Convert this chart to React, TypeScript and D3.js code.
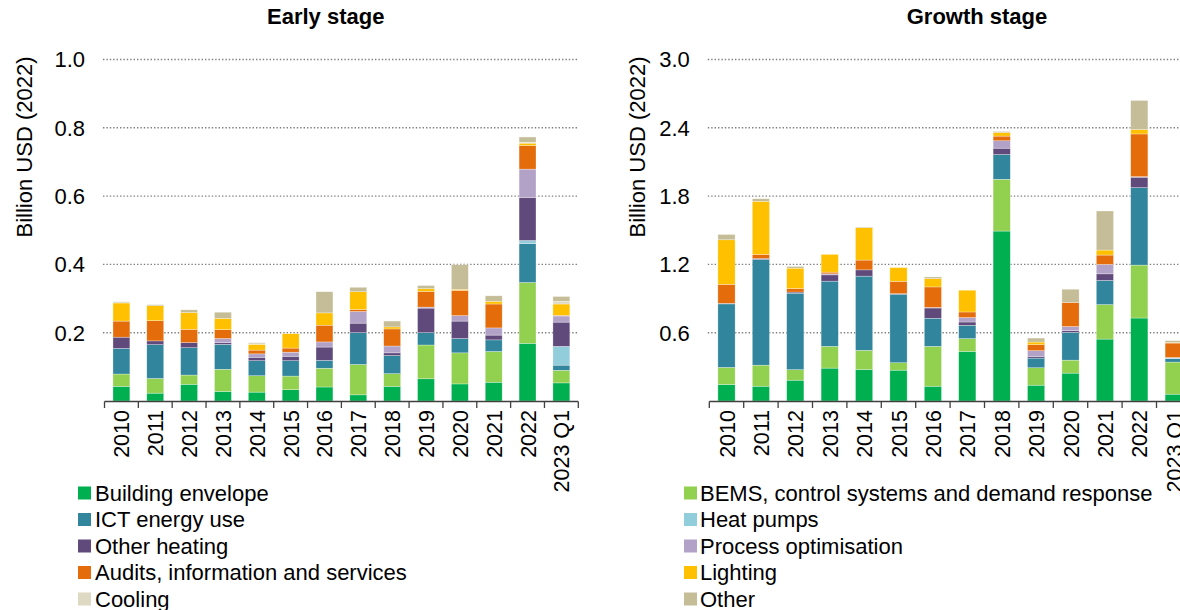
import React from "react";
import * as d3 from "d3";

const years = ["2010","2011","2012","2013","2014","2015","2016","2017","2018","2019","2020","2021","2022","2023 Q1"];

const seriesNames = [
  "Building envelope",
  "BEMS, control systems and demand response",
  "ICT energy use",
  "Heat pumps",
  "Other heating",
  "Process optimisation",
  "Audits, information and services",
  "Lighting",
  "Cooling",
  "Other",
];
const seriesColors = ["#00b050","#92d050","#31859c","#92cddc","#604a7b","#b3a2c7","#e46c0a","#ffc000","#ddd9c3","#c4bd97"];

// Early stage (billion USD 2022)
const earlyBuildingEnvelope = [0.043,0.023,0.049,0.028,0.026,0.033,0.041,0.018,0.043,0.065,0.050,0.055,0.169,0.053];
const earlyBems = [0.036,0.043,0.027,0.065,0.048,0.040,0.055,0.089,0.037,0.099,0.091,0.090,0.178,0.037];
const earlyIct = [0.075,0.099,0.080,0.073,0.044,0.045,0.023,0.093,0.053,0.036,0.042,0.034,0.114,0.015];
const earlyHeatPumps = [0,0,0,0,0,0,0,0,0,0,0,0,0.009,0.055];
const earlyOtherHeating = [0.033,0.011,0.015,0.005,0.010,0.013,0.039,0.028,0.008,0.072,0.051,0.014,0.126,0.071];
const earlyProcess = [0,0,0,0.012,0.010,0.012,0.015,0.034,0.020,0.003,0.016,0.021,0.083,0.018];
const earlyAudits = [0.047,0.059,0.039,0.026,0.011,0.012,0.049,0.006,0.050,0.046,0.074,0.070,0.069,0.002];
const earlyLighting = [0.053,0.044,0.049,0.033,0.017,0.042,0.036,0.052,0.006,0.008,0.003,0.008,0.007,0.033];
const earlyCooling = [0.004,0,0,0,0.005,0,0,0,0,0,0,0,0.003,0.008];
const earlyOther = [0,0.003,0.008,0.018,0,0,0.062,0.013,0.017,0.009,0.072,0.016,0.015,0.014];

// Growth stage (billion USD 2022)
const growthBuildingEnvelope = [0.145,0.130,0.183,0.289,0.277,0.271,0.130,0.436,1.493,0.139,0.245,0.544,0.729,0.060];
const growthBems = [0.150,0.185,0.092,0.191,0.168,0.065,0.350,0.112,0.455,0.153,0.114,0.303,0.465,0.282];
const growthIct = [0.558,0.929,0.672,0.573,0.652,0.602,0.247,0.117,0.217,0.085,0.244,0.212,0.680,0.030];
const growthHeatPumps = [0,0,0,0,0,0,0,0,0,0,0,0,0,0.005];
const growthOtherHeating = [0.005,0.008,0.010,0.055,0.055,0.005,0.090,0.029,0.056,0.015,0.015,0.058,0.092,0];
const growthProcess = [0,0,0,0.009,0,0,0.005,0.039,0.065,0.050,0.036,0.083,0.005,0.005];
const growthAudits = [0.167,0.035,0.031,0.015,0.086,0.108,0.180,0.049,0.041,0.053,0.211,0.082,0.375,0.127];
const growthLighting = [0.391,0.467,0.179,0.156,0.284,0.121,0.074,0.191,0.032,0.023,0,0.044,0.039,0.005];
const growthCooling = [0,0,0,0,0,0,0,0,0,0,0,0,0,0];
const growthOther = [0.047,0.023,0.015,0,0.005,0,0.014,0,0.009,0.035,0.117,0.343,0.255,0.016];

const earlyTicks = [0.2, 0.4, 0.6, 0.8, 1.0];
const growthTicks = [0.6, 1.2, 1.8, 2.4, 3.0];

const earlySeries = [earlyBuildingEnvelope, earlyBems, earlyIct, earlyHeatPumps, earlyOtherHeating, earlyProcess, earlyAudits, earlyLighting, earlyCooling, earlyOther];
const growthSeries = [growthBuildingEnvelope, growthBems, growthIct, growthHeatPumps, growthOtherHeating, growthProcess, growthAudits, growthLighting, growthCooling, growthOther];

const FONT = "'Liberation Sans', Arial, Helvetica, sans-serif";

type PanelProps = {
  title: string;
  titleX: number;
  series: number[][];
  ticks: number[];
  yMax: number;
  x0: number;
  x1: number;
  gridEnd: number;
  axisTitleX: number;
  tickFmt: (v: number) => string;
};

function Panel(p: PanelProps) {
  const yBottom = 401;
  const yTop = 59.5;
  const x = d3.scaleBand<string>().domain(years).range([p.x0, p.x1]).paddingInner(0.5).paddingOuter(0.25);
  const y = d3.scaleLinear().domain([0, p.yMax]).range([yBottom, yTop]);
  const rows = years.map((yr, i) => {
    const r: any = { year: yr };
    seriesNames.forEach((n, k) => (r[n] = p.series[k][i]));
    return r;
  });
  const stacked = d3.stack<any>().keys(seriesNames)(rows);
  const step = x.step();
  const boundaries = d3.range(years.length + 1).map((i) => p.x0 + i * step);
  return (
    <g>
      <text x={p.titleX} y={24} textAnchor="middle" fontWeight="bold" fontSize={22} fontFamily={FONT} fill="#000">{p.title}</text>
      <text transform={`translate(${p.axisTitleX},${147}) rotate(-90)`} textAnchor="middle" fontSize={22} fontFamily={FONT} fill="#000">Billion USD (2022)</text>
      {p.ticks.map((t) => (
        <g key={t}>
          <line x1={p.x0 - 1.5} x2={p.gridEnd} y1={y(t)} y2={y(t)} stroke="#7f7f7f" strokeWidth={1.4} strokeDasharray="1.4 2" />
          <text x={p.x0 - 19.5} y={y(t)} dy="0.36em" textAnchor="end" fontSize={22} fontFamily={FONT} fill="#000">{p.tickFmt(t)}</text>
        </g>
      ))}
      {stacked.map((layer, k) => (
        <g key={layer.key} fill={seriesColors[k]}>
          {layer.map((d, i) => {
            const h = y(d[0]) - y(d[1]);
            if (h <= 0) return null;
            return (
              <rect key={i} x={x(years[i])} width={x.bandwidth()} y={y(d[1])} height={h} stroke="#ffffff" strokeWidth={0.5} strokeOpacity={0.6} />
            );
          })}
        </g>
      ))}
      <line x1={p.x0} x2={p.x1} y1={yBottom + 0.5} y2={yBottom + 0.5} stroke="#404040" strokeWidth={1.3} />
      {boundaries.map((bx, i) => (
        <line key={i} x1={bx} x2={bx} y1={yBottom + 0.5} y2={yBottom + 7} stroke="#404040" strokeWidth={1.3} />
      ))}
      {years.map((yr) => {
        const cx = (x(yr) as number) + x.bandwidth() / 2;
        return (
          <text key={yr} transform={`translate(${cx + 8},${410}) rotate(-90)`} textAnchor="end" fontSize={21.5} fontFamily={FONT} fill="#000">{yr}</text>
        );
      })}
    </g>
  );
}

function Legend() {
  const rowsY = [493, 519.5, 546, 572.5, 599];
  return (
    <g>
      {seriesNames.map((n, k) => {
        const col = k % 2;
        const row = Math.floor(k / 2);
        const sx = col === 0 ? 78 : 684;
        const tx = col === 0 ? 95 : 700;
        const cy = rowsY[row];
        return (
          <g key={n}>
            <rect x={sx} y={cy - 6.5} width={13} height={13} fill={seriesColors[k]} />
            <text x={tx} y={cy} dy="0.36em" fontSize={22} fontFamily={FONT} fill="#000">{n}</text>
          </g>
        );
      })}
    </g>
  );
}

export default function App() {
  return (
    <svg width={1180} height={610} viewBox="0 0 1180 610" style={{ position: "absolute", left: 0, top: 0, background: "#fff" }}>
      <rect x={0} y={0} width={1180} height={610} fill="#fff" />
      <Panel title="Early stage" titleX={325.7} series={earlySeries} ticks={earlyTicks} yMax={1.0} x0={104.5} x1={578.3} gridEnd={578.3} axisTitleX={32} tickFmt={(v) => d3.format(".1f")(v)} />
      <Panel title="Growth stage" titleX={977} series={growthSeries} ticks={growthTicks} yMax={3.0} x0={709.3} x1={1190.9} gridEnd={1190} axisTitleX={645} tickFmt={(v) => d3.format(".1f")(v)} />
      <Legend />
    </svg>
  );
}
